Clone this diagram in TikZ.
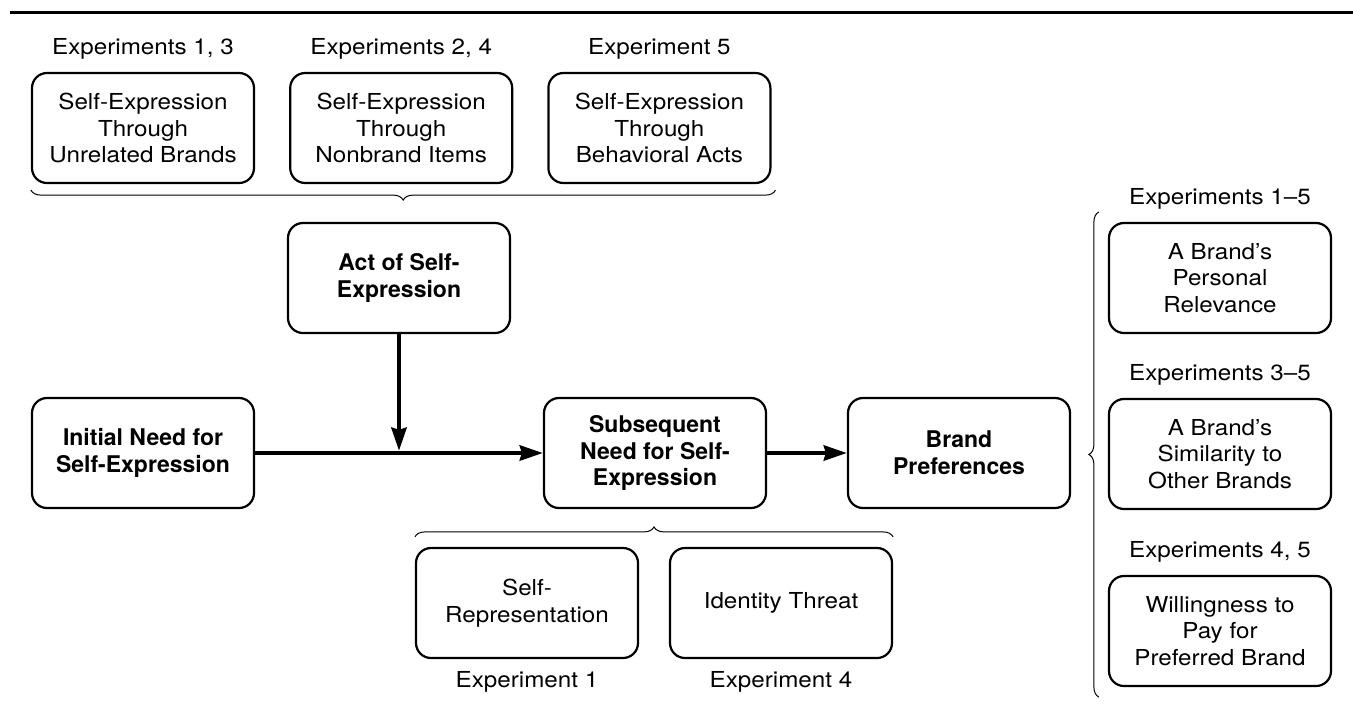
\documentclass[tikz,border=0pt]{standalone}
\usepackage{fontspec}
\setmainfont{TeX Gyre Heros}[FakeStretch=1.1, BoldFeatures={FakeStretch=1.0}]
\usetikzlibrary{positioning,calc,arrows.meta,decorations.pathreplacing}

\begin{document}
\begin{tikzpicture}[x=0.5pt, y=-0.5pt, node distance=6pt,
    font=\fontsize{11}{13.3}\selectfont,
    box/.style={rectangle, draw, line width=1.1pt, rounded corners=7.5pt,
        minimum width=111pt, minimum height=55pt, align=center, inner sep=2pt},
    bbox/.style={box, font=\fontsize{11.5}{13.3}\selectfont\bfseries},
    lbl/.style={inner sep=0pt},
    flow/.style={-{Stealth[length=11.5pt,width=7.5pt,inset=1pt]}, line width=2.2pt},
    brc/.style={decorate, decoration={brace, amplitude=5pt}, line width=0.5pt}]
    \useasboundingbox (0,0) rectangle (1353,703);
    \draw[line width=1.5pt] (10,12) -- (1353,12);

    % kinds of self-expression
    \node[box] (brands) at (143,128) {Self-Expression\\Through\\Unrelated Brands};
    \node[box,right=17pt of brands] (items) {Self-Expression\\Through\\Nonbrand Items};
    \node[box,right=17pt of items] (acts) {Self-Expression\\Through\\Behavioral Acts};
    \node[lbl,above=6pt of brands] (lbrands) {Experiments 1, 3};
    \node[lbl,above=6pt of items] (litems) {Experiments 2, 4};
    \node[lbl,above=6pt of acts] (lacts) {Experiment 5};

    % main model
    \node[bbox] (act) at (399,278) {Act of Self-\\Expression};
    \node[bbox] (init) at (143,453) {Initial Need for\\Self-Expression};
    \node[bbox] (subs) at (655,453) {Subsequent\\Need for Self-\\Expression};
    \node[bbox] (pref) at (959,453) {Brand\\Preferences};

    % manipulations of the need
    \node[box] (selfrep) at (527,603) {Self-\\Representation};
    \node[box] (threat) at (781,603) {Identity Threat};
    \node[lbl,below=6pt of selfrep] (lselfrep) {Experiment 1};
    \node[lbl,below=6pt of threat] (lthreat) {Experiment 4};

    % measures of preference
    \node[box] (relev) at (1220,278) {A Brand’s\\Personal\\Relevance};
    \node[box] (simil) at (1220,454) {A Brand’s\\Similarity to\\Other Brands};
    \node[box] (pay) at (1220,631) {Willingness to\\Pay for\\Preferred Brand};
    \node[lbl,above=6pt of relev] (lrelev) {Experiments 1–5};
    \node[lbl,above=6pt of simil] (lsimil) {Experiments 3–5};
    \node[lbl,above=6pt of pay] (lpay) {Experiments 4, 5};

    \coordinate (meet) at (act |- init);
    \draw[flow] (act) -- ([yshift=1.1pt]meet);
    \draw[flow] (init) -- (subs);
    \draw[flow] (subs) -- (pref);

    \draw[brc] ($(acts.south east)+(4,6)$) -- ($(brands.south west)+(0,6)$);
    \draw[brc] ($(selfrep.north west)+(0,-10)$) -- ($(threat.north east)+(0,-10)$);
    \draw[brc] ($(pay.south west)+(-9,10)$) -- ($(relev.north west)+(-9,-10)$);
\end{tikzpicture}
\end{document}
